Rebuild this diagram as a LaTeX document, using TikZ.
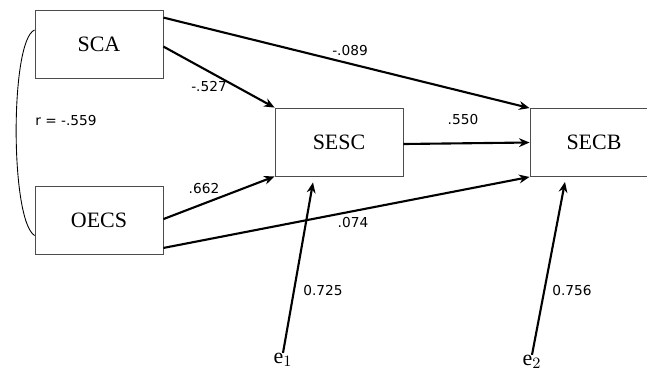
\documentclass[tikz,border=0pt]{standalone}
\usepackage{fontspec}
\setmainfont{Liberation Serif}
\setsansfont{DejaVu Sans}
\usetikzlibrary{calc,arrows.meta}

\begin{document}
\begin{tikzpicture}[x=0.02cm,y=-0.02cm,
  var/.style={draw=black!70,line width=0.5pt,minimum width=2.56cm,minimum height=1.36cm,
    inner sep=0pt,font=\fontsize{12.5}{14}\selectfont},
  path/.style={line width=1.2pt,-{Stealth[length=6pt,width=5pt]}},
  coef/.style={font=\sffamily\fontsize{7.8}{9}\selectfont,inner sep=0pt},
  err/.style={font=\fontsize{12.5}{14}\selectfont,inner sep=0pt}]
\useasboundingbox (0,0) rectangle (647,370);
\clip (0,0) rectangle (647,370);
% observed variables
\node[var] (sca) at (99,44) {SCA};
\node[var] (oecs) at (99,220.5) {OECS};
\node[var] (sesc) at (339,142) {SESC};
\node[var] (secb) at (594,142.5) {SECB};
% error terms
\node[err] (e1) at (283,360) {e$_1$};
\node[err] (e2) at (532,362) {e$_2$};
% correlation
\draw[line width=0.5pt] ($(sca.west)+(0,-14)$) .. controls (10,40) and (10,220) .. ($(oecs.west)+(0,15)$);
\node[coef,anchor=west] (r) at (35,121) {r = -.559};
% paths
\draw[path] ($(sca.north east)+(0,8)$) -- (secb.north west);
\draw[path] ($(sca.north east)+(0,37)$) -- (sesc.north west);
\draw[path] ($(oecs.north east)+(0,33)$) -- (sesc.south west);
\draw[path] ($(oecs.south east)+(0,-7)$) -- (secb.south west);
\draw[path] ($(sesc.east)+(0,2)$) -- (secb.west);
\draw[path] (e1.north) -- ($(sesc.south)+(-26,6)$);
\draw[path] (e2.north) -- ($(secb.south)+(-29,5)$);
% coefficients
\node[coef] (c1) at (350,51) {-.089};
\node[coef] (c2) at (209,87) {-.527};
\node[coef] (c3) at (463,120) {.550};
\node[coef] (c4) at (204,189) {.662};
\node[coef] (c5) at (353,223) {.074};
\node[coef] (c6) at (323,291) {0.725};
\node[coef] (c7) at (572,291) {0.756};
\end{tikzpicture}
\end{document}
